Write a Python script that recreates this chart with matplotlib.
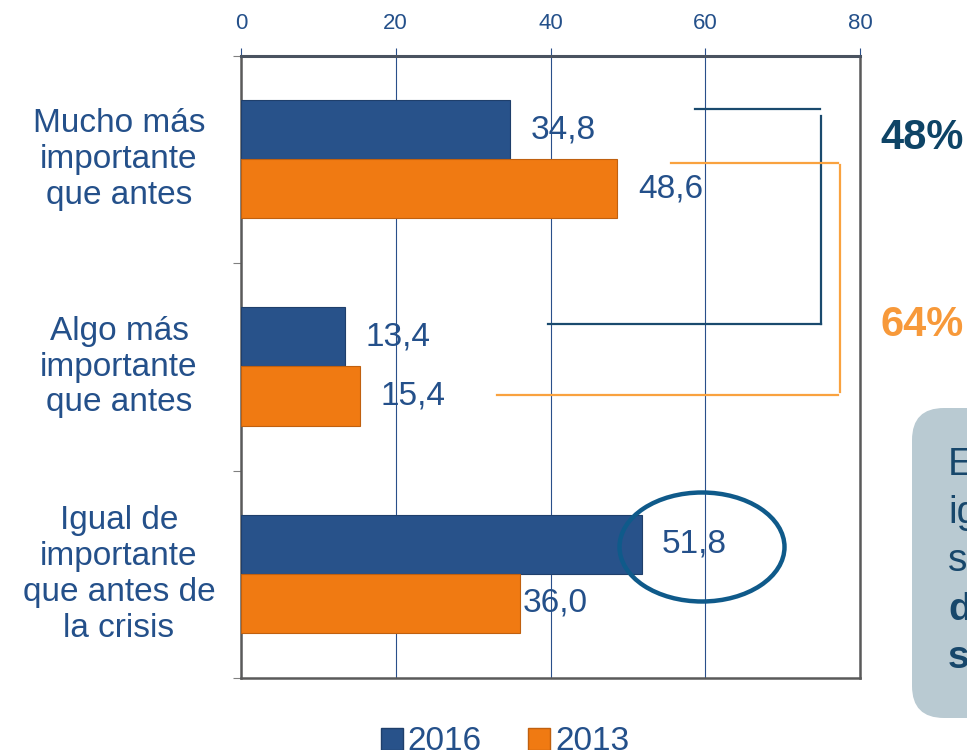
import matplotlib

matplotlib.use("Agg")
import matplotlib.pyplot as plt
from matplotlib.lines import Line2D
from matplotlib.patches import Ellipse, FancyBboxPatch, Patch

plt.rcParams["font.family"] = ["Liberation Sans", "DejaVu Sans"]

categories = [
    "Mucho más\nimportante\nque antes",
    "Algo más\nimportante\nque antes",
    "Igual de\nimportante\nque antes de\nla crisis",
]
years = ["2016", "2013"]
values_2016 = [34.8, 13.4, 51.8]
values_2013 = [48.6, 15.4, 36.0]
xticks = [0, 20, 40, 60, 80]
bracket_labels = ["48%", "64%"]
note_lines = ["E", "ig", "s", "d", "s"]

BLUE = "#28528a"
ORANGE = "#f07a12"
TEXT = "#24508a"
DARK = "#17476b"


def fmt(v: float) -> str:
    return f"{v:.1f}".replace(".", ",")


def main() -> None:
    fig = plt.figure(figsize=(9.67, 7.5), dpi=100)
    ax = fig.add_axes([241 / 967, 1 - 678 / 750, 619 / 967, 622 / 750])

    y = list(range(len(categories)))
    h = 0.285
    ax.barh([i - 0.145 for i in y], values_2016, height=h, color=BLUE,
            edgecolor="#1f3f6b", linewidth=0.8, zorder=3)
    ax.barh([i + 0.14 for i in y], values_2013, height=h, color=ORANGE,
            edgecolor="#c0600f", linewidth=0.8, zorder=3)

    # value labels, offset in points from the bar end
    offs_2016 = [15, 15, 14]
    offs_2013 = [15, 15, 2]
    for i, v in enumerate(values_2016):
        ax.annotate(fmt(v), (v, i - 0.145), xytext=(offs_2016[i], 0),
                    textcoords="offset points", va="center", ha="left",
                    fontsize=24, color=TEXT, zorder=5)
    for i, v in enumerate(values_2013):
        ax.annotate(fmt(v), (v, i + 0.14), xytext=(offs_2013[i], 0),
                    textcoords="offset points", va="center", ha="left",
                    fontsize=24, color=TEXT, zorder=5)

    ax.set_xlim(0, 80)
    ax.set_ylim(2.5, -0.5)
    ax.xaxis.tick_top()
    ax.set_xticks(xticks)
    ax.set_xticklabels([str(t) for t in xticks], fontsize=16, color=TEXT)
    ax.tick_params(axis="x", direction="out", length=6, width=0.8,
                   color="#2a4f8a", pad=10)
    ax.set_yticks([-0.5, 0.5, 1.5, 2.5])
    ax.set_yticklabels([])
    ax.tick_params(axis="y", direction="out", length=6, width=0.8,
                   color="#808080")
    ax.grid(True, axis="x", color="#2a4f8a", linewidth=0.8, zorder=0)
    for side in ["left", "bottom", "right"]:
        ax.spines[side].set_color("#5a5a5a")
        ax.spines[side].set_linewidth(1.8)
    ax.spines["top"].set_color("#4a5360")
    ax.spines["top"].set_linewidth(2.2)

    for i, lab in enumerate(categories):
        ax.annotate(lab, (0, i), xycoords=("axes fraction", "data"),
                    xytext=(119 - 241, 0), textcoords="offset pixels",
                    ha="center", va="center", fontsize=24, color=TEXT,
                    linespacing=1.2)

    # overlay elements, in inches (figure pixels / 100)
    tr = fig.dpi_scale_trans
    Y = lambda py: (750 - py) / 100

    def seg(x0, y0, x1, y1, color):
        fig.add_artist(Line2D([x0 / 100, x1 / 100], [Y(y0), Y(y1)],
                              transform=tr, color=color, linewidth=1.6))

    seg(695, 109, 820, 109, "#1a4a6e")
    seg(821, 116, 821, 324, "#1a4a6e")
    seg(548, 324, 821, 324, "#1a4a6e")
    seg(671, 163, 838, 163, "#f9a23f")
    seg(840, 165, 840, 392, "#f9a23f")
    seg(497, 395, 838, 395, "#f9a23f")

    fig.text(8.80, Y(149), bracket_labels[0], transform=tr, fontsize=30,
             fontweight="bold", color="#0e4466", va="baseline")
    fig.text(8.80, Y(336), bracket_labels[1], transform=tr, fontsize=30,
             fontweight="bold", color="#f7993a", va="baseline")

    fig.add_artist(Ellipse((7.02, Y(547)), 1.65, 1.09, transform=tr,
                           fill=False, edgecolor="#0f5a8a", linewidth=3.2,
                           zorder=6))

    fig.add_artist(FancyBboxPatch((9.12, Y(718)), 1.3, 3.10, transform=tr,
                                  boxstyle="round,pad=0,rounding_size=0.32",
                                  facecolor="#b9cad2", edgecolor="none"))
    baselines = [475, 523, 571, 620, 668]
    for txt, b, bold in zip(note_lines, baselines,
                            [False, False, False, True, True]):
        fig.text(9.48, Y(b), txt, transform=tr, fontsize=28, color=DARK,
                 va="baseline", fontweight="bold" if bold else "normal")

    handles = [Patch(facecolor=BLUE, edgecolor="#1f3f6b"),
               Patch(facecolor=ORANGE, edgecolor="#c0600f")]
    fig.legend(handles, years, loc="center", ncol=2, frameon=False,
               bbox_to_anchor=(505 / 967, 1 - 742 / 750), fontsize=24,
               labelcolor=TEXT, handlelength=0.65, handleheight=0.65,
               handletextpad=0.15, columnspacing=1.4)

    fig.savefig("out.png", dpi=100)


if __name__ == "__main__":
    main()
